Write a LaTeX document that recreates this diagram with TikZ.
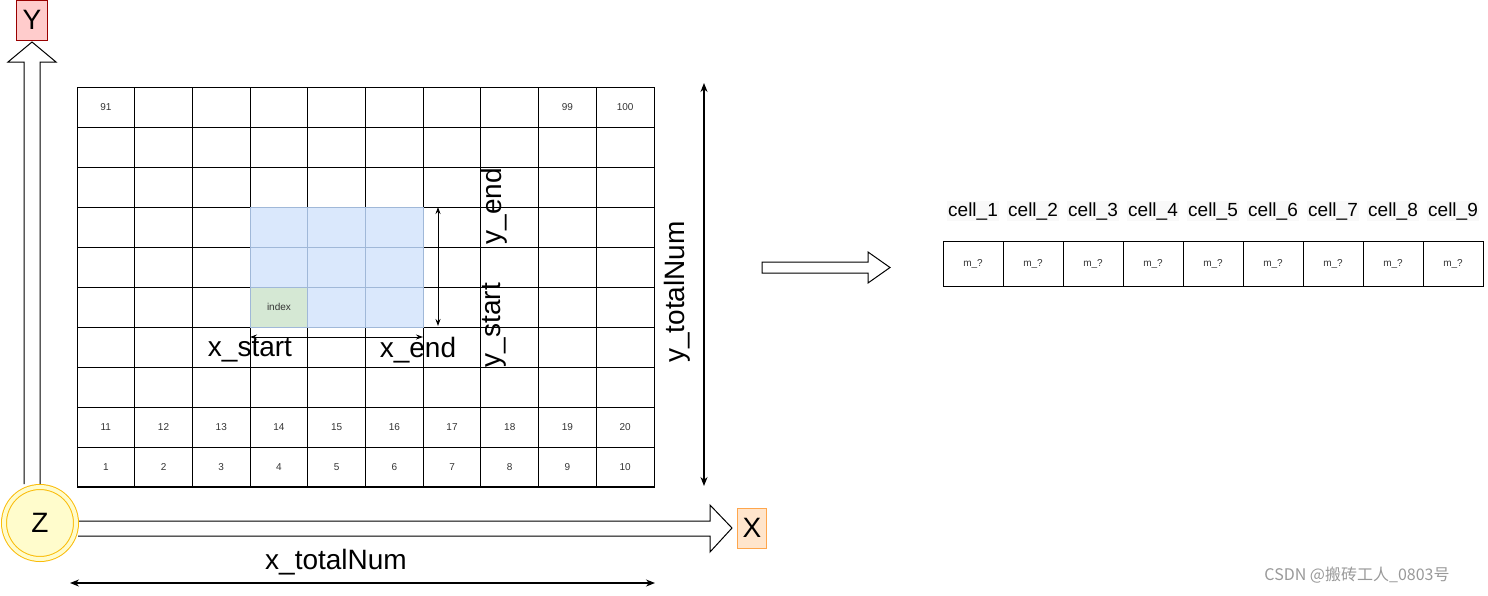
\documentclass[tikz,border=0pt]{standalone}
\usepackage{fontspec}
\setmainfont{Liberation Sans}
\newfontfamily\cjk{Noto Sans CJK SC}
\usetikzlibrary{arrows.meta}
\definecolor{bluef}{HTML}{DAE8FC}
\definecolor{greenf}{HTML}{D5E8D4}
\definecolor{blued}{HTML}{A0B8D8}
\begin{document}
\begin{tikzpicture}[x=1pt,y=-1pt,line width=1pt,
 cell/.style={draw,minimum width=57.7pt,minimum height=40pt,inner sep=0,font=\fontsize{10}{10}\selectfont,text=black!80},
 rcell/.style={draw,minimum width=60pt,minimum height=45pt,inner sep=0,font=\fontsize{10}{10}\selectfont,text=black!80},
 big/.style={font=\fontsize{28}{28}\selectfont},
 mid/.style={font=\fontsize{19}{19}\selectfont},
 dim/.style={{Stealth[length=9pt,width=7pt]}-{Stealth[length=9pt,width=7pt]},line width=1.2pt},
 sdim/.style={{Stealth[length=7pt,width=5pt]}-{Stealth[length=7pt,width=5pt]},line width=0.9pt}]
\useasboundingbox (0,0) rectangle (1488,595);
% grid
\foreach \c in {0,...,9}{\foreach \r in {0,...,9}{
  \node[cell] (g\c-\r) at ({77+57.7*\c+28.85},{87+40*\r+20}) {};}}
\foreach \c in {3,4,5}{\foreach \r in {3,4,5}{
  \node[cell,fill=bluef,draw=blued] at ({77+57.7*\c+28.85},{87+40*\r+20}) {};}}
\node[cell,fill=greenf,draw=blued] (idx) at ({77+57.7*3+28.85},{87+40*5+20}) {index};
\node[cell,fill=none,draw=none] at (g0-0) {91};
\node[cell,draw=none] at (g8-0) {99};
\node[cell,draw=none] at (g9-0) {100};
\foreach \c in {0,...,9}{
  \pgfmathtruncatemacro\a{\c+1}\pgfmathtruncatemacro\b{\c+11}
  \node[cell,draw=none] at (g\c-9) {\a};
  \node[cell,draw=none] at (g\c-8) {\b};}
\draw (77,87) rectangle (654,486);
% axes
\node[draw=red!60!black,fill=red!20,minimum width=31pt,minimum height=40pt,inner sep=0,big] (Y) at (32,20) {Y};
\node[draw=orange!70,fill=orange!20,minimum width=29pt,minimum height=40pt,inner sep=0,big] (X) at (752,528) {X};
\draw[fill=white] (24,484) -- (24,62) -- (8,62) -- (32,42) -- (56,62) -- (40,62) -- (40,484);
\draw[fill=white] (78,521) -- (710,521) -- (710,505) -- (732,528) -- (710,552) -- (710,536) -- (78,536);
\node[circle,double=yellow!20,double distance=4pt,draw=yellow!50!orange,line width=1pt,fill=yellow!20,minimum size=72pt,inner sep=0,big] (Z) at (40,523) {Z};
% dims
\coordinate (xt1) at (70,583); \coordinate (xt2) at (655,583);
\draw[dim] (xt1) -- (xt2);
\node[big] (xtl) at (336,562) {x\_totalNum};
\coordinate (yt1) at (704,83); \coordinate (yt2) at (704,486);
\draw[dim] (yt1) -- (yt2);
\node[big,rotate=90] (ytl) at (677,292) {y\_totalNum};
\coordinate (xs1) at (250,337); \coordinate (xs2) at (423,337);
\draw[sdim] (xs1) -- (xs2);
\node[big] at (250,350) {x\_start};
\node[big] at (418,350) {x\_end};
\coordinate (ys1) at (438,207); \coordinate (ys2) at (438,326);
\draw[sdim] (ys1) -- (ys2);
\node[big,rotate=90] at (494,206) {y\_end};
\node[big,rotate=90] at (494,325) {y\_start};
% big arrow
\draw[fill=white] (762,262) -- (868,262) -- (868,252) -- (890,267.5) -- (868,283) -- (868,273) -- (762,273) -- cycle;
% right table
\foreach \i in {1,...,9}{
  \node[rcell] (r\i) at ({943+60*\i-30},263.5) {m\_?};
  \node[mid,fill=gray!5,inner sep=1pt] at ({943+60*\i-30},211) {cell\_\i};}
\node[font=\cjk\fontsize{16}{16}\selectfont,text=gray!80] at (1357,575) {CSDN @搬砖工人\_0803号};
\end{tikzpicture}
\end{document}
